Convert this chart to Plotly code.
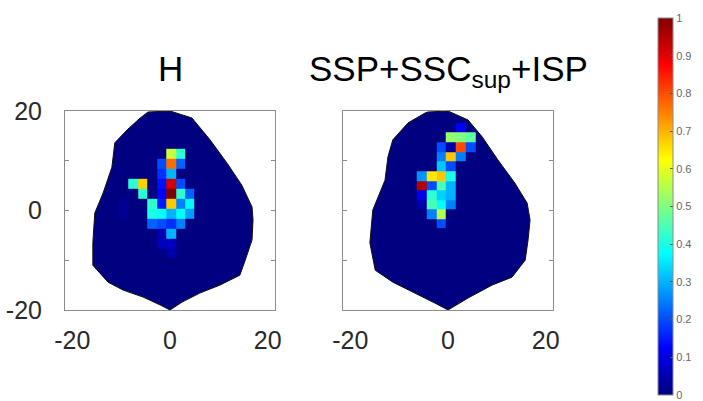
import plotly.graph_objects as go

# ---- data -------------------------------------------------------------
# outline of the mapped region for each panel (x, y in degrees)
h_outline_x = [-4.5, 0.0, 4.5, 8.2, 11.7, 14.7, 16.8, 17.0, 16.8, 15.4, 14.3, 10.2, 6.1, 2.5, 0.0,
               -2.0, -5.5, -9.6, -12.7, -15.8, -15.8, -15.4, -13.7, -11.9, -11.3, -8.8, -6.1]
h_outline_y = [19.8, 20.0, 18.6, 14.2, 9.5, 5.1, 0.7, -1.9, -5.9, -10.0, -13.0, -15.0, -16.6, -18.4, -20.0,
               -19.0, -17.4, -16.0, -14.4, -11.0, -6.5, -0.5, 3.5, 8.7, 13.6, 16.2, 18.6]

s_outline_x = [-4.1, 0.0, 4.1, 7.0, 10.2, 13.7, 16.2, 16.8, 16.4, 15.8, 13.1, 9.0, 4.1, 0.0,
               -2.7, -6.8, -11.3, -14.9, -16.0, -15.4, -12.9, -12.3, -11.3, -8.2, -4.7]
s_outline_y = [19.8, 20.0, 18.2, 14.8, 10.2, 5.5, 1.5, -1.9, -5.9, -10.0, -13.4, -15.0, -17.6, -20.0,
               -18.6, -16.6, -14.4, -12.0, -6.5, 0.1, 6.1, 10.8, 14.2, 17.6, 19.6]

# bin centres and normalised values (None = no data)
h_x = [-9.6, -7.6, -5.6, -3.6, -1.7, 0.2, 2.2, 4.1]
h_y = [11.4, 9.4, 7.4, 5.4, 3.4, 1.4, -0.6, -2.6, -4.6, -6.6, -8.6]
h_z = [
    [None, None, None, None, None, 0.57, 0.42, None],
    [None, None, None, None, 0.20, 0.77, 0.22, None],
    [None, None, None, None, 0.17, 0.30, None, None],
    [None, 0.42, 0.67, None, 0.14, 0.92, 0.20, None],
    [None, None, 0.42, None, 0.12, 1.00, 0.42, 0.22],
    [0.02, None, None, 0.42, 0.15, 0.68, 0.25, 0.37],
    [0.02, None, None, 0.40, 0.38, 0.30, 0.38, 0.28],
    [None, None, None, 0.22, 0.20, 0.17, 0.25, None],
    [None, None, None, None, 0.05, 0.30, None, None],
    [None, None, None, None, 0.06, 0.06, None, None],
    [None, None, None, None, None, 0.04, None, None],
]

s_x = [-5.4, -3.4, -1.4, 0.6, 2.6, 4.6]
s_y = [16.6, 14.7, 12.7, 10.8, 8.85, 6.9, 5.0, 3.1, 1.2, -0.7, -2.6]
s_z = [
    [None, None, None, None, 0.12, None],
    [None, None, None, 0.52, 0.50, 0.47],
    [None, None, 0.20, 0.04, 0.80, 0.20],
    [None, None, 0.25, 0.68, 0.25, None],
    [None, None, 0.32, 0.20, None, None],
    [0.27, 0.65, 0.68, 0.40, None, None],
    [0.95, 0.20, 0.45, 0.30, None, None],
    [0.10, 0.42, 0.33, 0.30, None, None],
    [0.04, 0.45, 0.38, 0.25, None, None],
    [None, 0.25, 0.55, None, None, None],
    [None, None, 0.20, None, None, None],
]

panel_titles = ["H", "SSP+SSC<sub>sup</sub>+ISP"]
axis_ticks = [-20, 0, 20]
minor_ticks = [-10, 10]
cbar_ticks = [0, 0.1, 0.2, 0.3, 0.4, 0.5, 0.6, 0.7, 0.8, 0.9, 1]
cbar_labels = ["0", "0.1", "0.2", "0.3", "0.4", "0.5", "0.6", "0.7", "0.8", "0.9", "1"]

# ---- style ------------------------------------------------------------
jet = [[0.0, "rgb(0,0,128)"], [0.125, "rgb(0,0,255)"], [0.375, "rgb(0,255,255)"],
       [0.625, "rgb(255,255,0)"], [0.875, "rgb(255,0,0)"], [1.0, "rgb(128,0,0)"]]
W, H = 703, 401
FONT = "Liberation Sans, Arial, sans-serif"


def px(v):
    return v / W


def py(v):
    return 1 - v / H


def outline_path(xs, ys):
    pts = " L ".join(f"{a},{b}" for a, b in zip(xs, ys))
    return f"M {pts} Z"


fig = go.Figure()

panels = [
    (h_outline_x, h_outline_y, h_x, h_y, h_z, "x", "y"),
    (s_outline_x, s_outline_y, s_x, s_y, s_z, "x2", "y2"),
]
for ox, oy, gx, gy, gz, xa, ya in panels:
    # region outline sits underneath the binned values
    fig.add_shape(type="path", path=outline_path(ox, oy), xref=xa, yref=ya,
                  fillcolor="rgb(0,0,128)", line=dict(color="#111", width=1), layer="below")
    fig.add_trace(go.Heatmap(
        x=gx, y=gy, z=gz, coloraxis="coloraxis", xaxis=xa, yaxis=ya,
        zsmooth=False, hoverongaps=False))

y_dom = [py(310), py(111)]
tick_font = dict(family=FONT, size=25, color="#2a2a2a")
common_x = dict(range=[-21.5, 21.5], tickvals=axis_ticks, ticktext=[str(t) for t in axis_ticks],
                ticks="", showline=True, mirror=True, linecolor="#8c8c8c", linewidth=1,
                showgrid=False, zeroline=False, ticklabelstandoff=8, tickfont=tick_font,
                automargin=False)
common_y = dict(range=[-20, 20], tickvals=axis_ticks, ticktext=[str(t) for t in axis_ticks],
                ticks="inside", ticklen=4, tickcolor="#8c8c8c", showline=True, mirror="ticks",
                minor=dict(tickvals=minor_ticks, ticks="inside", ticklen=4, tickcolor="#8c8c8c"),
                linecolor="#8c8c8c", linewidth=1, showgrid=False, zeroline=False,
                ticklabelstandoff=17, tickfont=tick_font, domain=y_dom, automargin=False)

fig.update_layout(
    width=W, height=H, margin=dict(l=0, r=0, t=0, b=0, autoexpand=False),
    paper_bgcolor="white", plot_bgcolor="white",
    xaxis=dict(common_x, domain=[px(65), px(275)], anchor="y"),
    yaxis=dict(common_y, anchor="x"),
    xaxis2=dict(common_x, domain=[px(343), px(553)], anchor="y2"),
    yaxis2=dict(common_y, anchor="x2", showticklabels=False),
    coloraxis=dict(
        cmin=0, cmax=1, colorscale=jet,
        colorbar=dict(
            x=px(658), xanchor="left", xref="paper", thickness=15, thicknessmode="pixels",
            y=py(206.5), yanchor="middle", len=(395 - 18), lenmode="pixels", ypad=0, xpad=0,
            outlinewidth=1, outlinecolor="#8c8c8c",
            tickvals=cbar_ticks, ticktext=cbar_labels, ticks="inside", ticklen=3,
            tickcolor="#555", tickfont=dict(family=FONT, size=11, color="#666"),
        ),
    ),
    showlegend=False,
)

centers = [px(170), px(448)]
for cx, title in zip(centers, panel_titles):
    fig.add_annotation(text=title, x=cx, y=py(47), xref="paper", yref="paper",
                       xanchor="center", yanchor="top", showarrow=False,
                       font=dict(family=FONT, size=35, color="black"))

fig.write_html("out.html")
